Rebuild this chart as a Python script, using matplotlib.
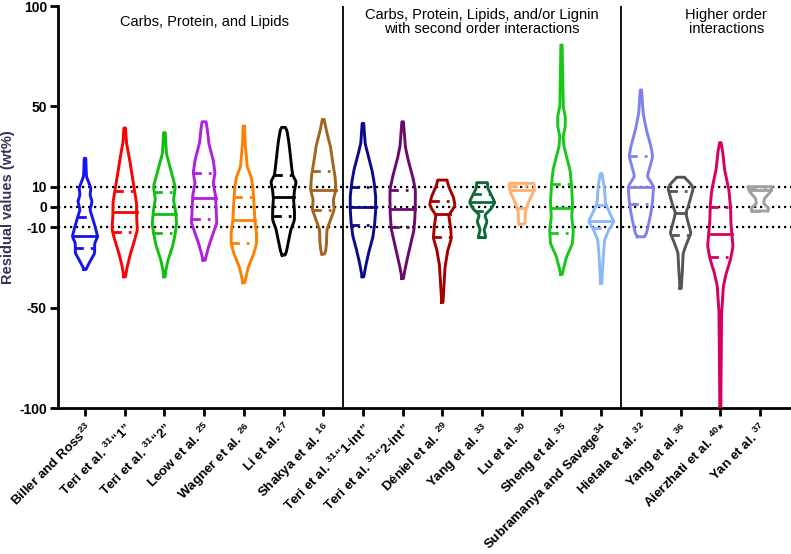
import numpy as np
import matplotlib.pyplot as plt

# model names (x axis), superscripts are reference numbers
labels = ['Biller and Ross$^{23}$', 'Teri et al. $^{31}$\u201c1\u201d', 'Teri et al. $^{31}$\u201c2\u201d',
          'Leow et al. $^{25}$', 'Wagner et al. $^{26}$', 'Li et al. $^{27}$', 'Shakya et al. $^{16}$',
          'Teri et al. $^{31}$\u201c1-int\u201d', 'Teri et al. $^{31}$\u201c2-int\u201d', 'D\u00e9niel et al. $^{29}$',
          'Yang et al. $^{33}$', 'Lu et al. $^{30}$', 'Sheng et al. $^{35}$', 'Subramanya and Savage$^{34}$',
          'Hietala et al. $^{32}$', 'Yang et al. $^{36}$', 'Aierzhati et al. $^{40}$*', 'Yan et al. $^{37}$']

colors = ['#1414F0', '#FF0000', '#10C010', '#B020E0', '#FF8000', '#000000', '#A0651E',
          '#0A0A8A', '#6A0A6A', '#A50000', '#0F6A3A', '#FFB070', '#18C818', '#8AB8F8',
          '#8080F0', '#555555', '#D5005F', '#A0A0A0']

medians = [-14.4, -2.3, -3.5, 4.6, -6.5, 5.0, 8.5, 0.0, -1.0, -3.5, 2.3, 8.5, -0.7, -7.0, 10.1, -2.8, -13.4, 8.3]
q_upper = [-4.8, 8.1, 7.6, 16.8, 5.1, 16.0, 18.1, 9.8, 8.5, 3.1, 6.3, 10.3, 11.6, 1.0, 25.4, 8.0, -0.2, 9.0]
q_lower = [-20.2, -12.3, -13.1, -6.1, -17.8, -4.5, -1.5, -9.1, -10.1, -15.1, -1.8, -0.5, -12.7, -10.5, 1.5, -13.9, -24.7, -2.0]

# violin outlines: (residual value, relative width)
profiles = [
    [(24.2, 0.06), (15.1, 0.11), (9.3, 0.47), (6.0, 0.39), (2.6, 0.56), (-1.5, 0.39), (-8.1, 0.72),
     (-14.8, 1.0), (-18.1, 0.76), (-23.1, 0.76), (-27.2, 0.39), (-31.0, 0.08)],
    [(39.3, 0.06), (31.7, 0.14), (23.4, 0.39), (15.1, 0.6), (8.5, 0.76), (1.8, 0.93), (-4.8, 0.93),
     (-11.4, 1.0), (-16.4, 0.79), (-23.1, 0.46), (-29.7, 0.2), (-34.7, 0.06)],
    [(37.0, 0.06), (26.7, 0.15), (18.4, 0.5), (10.1, 0.86), (3.5, 0.71), (-1.5, 0.86), (-8.1, 0.96),
     (-13.1, 0.86), (-19.7, 0.64), (-26.4, 0.29), (-31.3, 0.12), (-34.7, 0.06)],
    [(42.4, 0.15), (38.3, 0.26), (31.7, 0.36), (23.4, 0.71), (16.8, 0.86), (11.8, 0.71), (5.1, 0.91),
     (-1.5, 0.94), (-8.1, 1.0), (-13.1, 0.71), (-19.7, 0.36), (-26.4, 0.08)],
    [(40.3, 0.06), (31.7, 0.1), (20.1, 0.26), (15.1, 0.57), (10.1, 0.71), (1.8, 0.8), (-6.5, 0.86),
     (-13.1, 1.0), (-18.1, 1.0), (-23.1, 0.79), (-29.7, 0.36), (-37.7, 0.06)],
    [(39.6, 0.12), (38.5, 0.26), (31.7, 0.43), (23.4, 0.57), (15.9, 0.71), (12.6, 1.0), (8.5, 0.86),
     (3.5, 0.79), (-1.5, 0.86), (-6.5, 0.86), (-11.4, 0.57), (-18.1, 0.36), (-23.0, 0.2), (-23.9, 0.08)],
    [(43.6, 0.06), (36.7, 0.29), (30.0, 0.57), (23.4, 0.71), (15.1, 0.93), (8.5, 1.0), (3.5, 0.79),
     (-1.5, 0.86), (-6.5, 0.57), (-11.4, 0.29), (-18.1, 0.26), (-22.5, 0.18), (-23.4, 0.08)],
    [(41.6, 0.06), (31.7, 0.17), (25.0, 0.43), (18.4, 0.71), (11.8, 0.89), (5.1, 1.0), (-1.5, 1.0),
     (-8.1, 0.93), (-14.8, 0.79), (-21.4, 0.5), (-28.0, 0.26), (-34.7, 0.06)],
    [(42.4, 0.06), (30.0, 0.21), (23.4, 0.43), (15.1, 0.79), (8.5, 1.0), (1.8, 1.0), (-4.8, 0.97),
     (-11.4, 0.89), (-18.1, 0.64), (-24.7, 0.4), (-31.3, 0.17), (-35.5, 0.06)],
    [(13.4, 0.36), (10.1, 0.5), (5.1, 0.86), (1.0, 1.0), (-1.5, 0.79), (-4.0, 0.5), (-9.8, 0.64),
     (-15.6, 0.71), (-21.4, 0.43), (-29.7, 0.21), (-38.0, 0.14), (-47.4, 0.05)],
    [(12.1, 0.42), (9.3, 0.45), (5.1, 0.8), (2.3, 1.0), (-1.0, 0.7), (-4.0, 0.2), (-7.3, 0.4),
     (-11.4, 0.14), (-13.5, 0.25), (-15.2, 0.28)],
    [(11.8, 0.95), (10.1, 1.0), (6.8, 0.87), (3.5, 0.6), (0.2, 0.4), (-3.1, 0.27), (-7.3, 0.27), (-8.5, 0.2)],
    [(80.6, 0.05), (63.2, 0.1), (50.0, 0.13), (45.0, 0.3), (40.0, 0.3), (35.0, 0.12), (30.0, 0.2),
     (26.7, 0.33), (18.4, 0.67), (10.1, 0.8), (1.8, 0.87), (-4.8, 0.8), (-11.4, 0.93), (-18.1, 0.87),
     (-24.7, 0.4), (-33.5, 0.05)],
    [(16.6, 0.06), (10.1, 0.24), (1.8, 0.33), (-3.1, 0.67), (-7.3, 1.0), (-11.4, 0.6), (-16.4, 0.27),
     (-24.7, 0.16), (-38.0, 0.05)],
    [(58.2, 0.05), (46.6, 0.17), (38.3, 0.43), (30.0, 0.79), (25.0, 0.93), (20.0, 0.71), (15.1, 0.5),
     (10.1, 1.0), (3.5, 0.93), (-3.1, 0.79), (-9.8, 0.57), (-14.0, 0.4), (-14.8, 0.25)],
    [(14.8, 0.27), (11.8, 0.75), (9.3, 1.0), (5.1, 0.82), (0.2, 0.6), (-3.1, 0.4), (-8.1, 0.6),
     (-13.1, 0.82), (-18.1, 0.48), (-23.1, 0.2), (-29.7, 0.16), (-40.4, 0.05)],
    [(32.0, 0.05), (26.7, 0.2), (18.4, 0.33), (8.5, 0.67), (0.2, 0.8), (-8.1, 0.83), (-14.8, 0.93),
     (-19.7, 1.0), (-26.4, 0.8), (-33.0, 0.47), (-39.6, 0.24), (-52.9, 0.1), (-100.0, 0.04)],
    [(10.1, 0.97), (7.6, 0.83), (4.3, 0.35), (1.8, 0.28), (-0.7, 0.7), (-2.0, 0.62)],
]

group_titles = ['Carbs, Protein, and Lipids',
                'Carbs, Protein, Lipids, and/or Lignin\nwith second order interactions',
                'Higher order\ninteractions']
group_title_x = [3.0, 10.0, 16.15]
group_breaks = [6.5, 13.5]

plt.rcParams['font.family'] = ['Liberation Sans', 'DejaVu Sans']
plt.rcParams['mathtext.fontset'] = 'custom'
plt.rcParams['mathtext.rm'] = 'Liberation Sans'
plt.rcParams['mathtext.default'] = 'regular'

fig = plt.figure(figsize=(7.91, 5.54), dpi=100)
ax = fig.add_axes([58 / 791, 146 / 554, 733 / 791, 402 / 554])

half = 0.32  # max half width of a violin, in x units

for v in [10, 0, -10]:
    ax.axhline(v, color='black', ls=(0, (1, 1.7)), lw=1.6, zorder=1)

for i, prof in enumerate(profiles):
    p = np.array(sorted(prof))
    yy = np.linspace(p[0, 0], p[-1, 0], 300)
    ww = np.interp(yy, p[:, 0], p[:, 1])
    step = yy[1] - yy[0]
    k = int(min(21, max(3, 2.0 / step)))
    ww = np.convolve(np.pad(ww, k, mode='edge'), np.ones(k) / k, mode='same')[k:-k]
    xs = np.concatenate([i - ww * half, (i + ww * half)[::-1], [i - ww[0] * half]])
    ys = np.concatenate([yy, yy[::-1], [yy[0]]])
    ax.plot(xs, ys, color=colors[i], lw=2.1, zorder=3, solid_joinstyle='round')

    w = np.interp(medians[i], yy, ww) * half
    ax.plot([i - w, i + w], [medians[i]] * 2, color=colors[i], lw=2, zorder=3)
    for q in (q_upper[i], q_lower[i]):
        w = np.interp(q, yy, ww) * half
        ax.plot([i - w, i + w], [q, q], color=colors[i], lw=2, ls=(0, (3, 2.5, 1, 2.5)), zorder=3)

for b in group_breaks:
    ax.axvline(b, color='black', lw=1.3, zorder=2)

for t, gx in zip(group_titles, group_title_x):
    ax.text(gx, 92, t, ha='center', va='center', fontsize=10.5, linespacing=1.05)

ax.set_xlim(-0.68, 17.78)
ax.set_ylim(-100, 100)
ax.set_yticks([-100, -50, -10, 0, 10, 50, 100])
ax.set_yticklabels(['-100', '-50', '-10', '0', '10', '50', '100'], fontweight='bold', fontsize=10)
ax.set_xticks(range(len(labels)))
ax.set_xticklabels(labels, rotation=45, ha='right', rotation_mode='anchor', fontweight='bold', fontsize=9.6)
ax.tick_params(axis='both', length=6, width=2, pad=2)
ax.tick_params(axis='x', pad=3)
ax.set_ylabel('Residual values (wt%)', fontweight='bold', fontsize=10.5, color='#33335a', labelpad=3)

for s in ['top', 'right']:
    ax.spines[s].set_visible(False)
for s in ['left', 'bottom']:
    ax.spines[s].set_linewidth(2)

fig.savefig('out.png', dpi=100)
